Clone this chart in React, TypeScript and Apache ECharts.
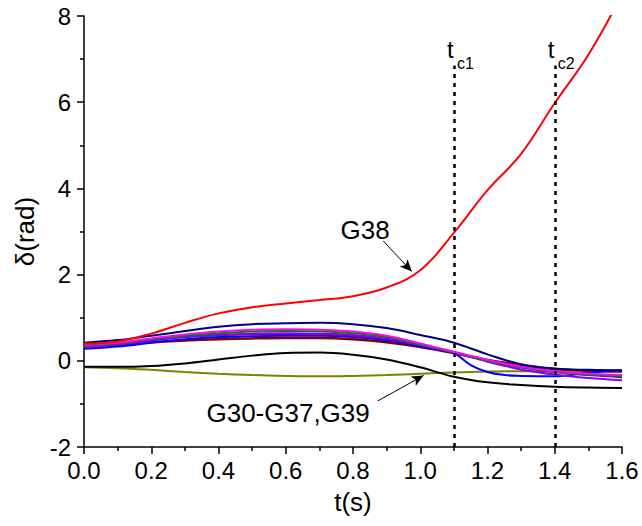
import { useEffect, useRef } from "react";
import * as echarts from "echarts";

// time axis shared by most curves (s)
const times = [0, 0.1, 0.2, 0.3, 0.4, 0.5, 0.6, 0.7, 0.8, 0.9, 1.0, 1.1, 1.2, 1.3, 1.4, 1.5, 1.6];

// rotor angles (rad)
const g38 = [0.4, 0.45, 0.63, 0.88, 1.1, 1.24, 1.33, 1.41, 1.5, 1.7, 2.1, 2.97, 3.96, 4.8, 5.98, 7.1, 8.5];
const g30 = [0.42, 0.48, 0.58, 0.69, 0.79, 0.85, 0.87, 0.88, 0.85, 0.76, 0.6, 0.42, 0.15, -0.08, -0.18, -0.21, -0.22];
const g31 = [0.37, 0.42, 0.52, 0.61, 0.68, 0.72, 0.73, 0.72, 0.68, 0.58, 0.4, 0.21, 0.02, -0.14, -0.24, -0.3, -0.33];
const g32 = [0.35, 0.4, 0.5, 0.58, 0.64, 0.68, 0.69, 0.68, 0.64, 0.55, 0.38, 0.2, 0.0, -0.15, -0.26, -0.32, -0.36];
const g33 = [0.33, 0.38, 0.47, 0.55, 0.6, 0.63, 0.64, 0.63, 0.6, 0.52, 0.37, 0.19, -0.02, -0.2, -0.32, -0.4, -0.45];
const g34 = [0.35, 0.4, 0.48, 0.55, 0.59, 0.61, 0.62, 0.61, 0.58, 0.5, 0.36, 0.19, 0.0, -0.15, -0.26, -0.33, -0.38];
const g36 = [0.33, 0.37, 0.43, 0.47, 0.5, 0.52, 0.53, 0.53, 0.5, 0.43, 0.32, 0.18, 0.02, -0.1, -0.19, -0.23, -0.25];
const g37 = [-0.14, -0.14, -0.12, -0.06, 0.03, 0.12, 0.18, 0.19, 0.14, 0.03, -0.15, -0.37, -0.5, -0.56, -0.6, -0.62, -0.63];
const g39 = [-0.15, -0.17, -0.21, -0.26, -0.3, -0.33, -0.35, -0.36, -0.35, -0.33, -0.3, -0.27, -0.25, -0.24, -0.25, -0.3, -0.38];

// G35 swings back faster, so it is sampled more finely after 1.0 s
const times35 = [0, 0.1, 0.2, 0.3, 0.4, 0.5, 0.6, 0.7, 0.8, 0.9, 1.0, 1.05, 1.1, 1.15, 1.2, 1.25, 1.3, 1.4, 1.5, 1.6];
const g35 = [0.28, 0.33, 0.42, 0.5, 0.55, 0.57, 0.58, 0.58, 0.55, 0.47, 0.33, 0.26, 0.18, -0.1, -0.26, -0.33, -0.35, -0.36, -0.28, -0.22];

// fault clearing instants
const clearTimes = [1.1, 1.4];
const clearLabels = ["c1", "c2"];

const FONT = "'Liberation Sans', Arial, sans-serif";

const zip = (xs: number[], ys: number[]) => xs.map((x, i) => [x, ys[i]]);

export default function App() {
  const ref = useRef<HTMLDivElement>(null);

  useEffect(() => {
    const chart = echarts.init(ref.current!, null, { renderer: "svg" });

    const curve = (name: string, color: string, xs: number[], ys: number[], extra: any = {}) => ({
      name,
      type: "line",
      data: zip(xs, ys),
      smooth: 0.4,
      showSymbol: false,
      symbol: "none",
      lineStyle: { color, width: 2 },
      clip: true,
      ...extra,
    });

    const axisLine = { onZero: false, lineStyle: { color: "#000", width: 1.5 } };
    const tickStyle = { color: "#000", width: 1.5 };

    chart.setOption({
      animation: false,
      backgroundColor: "#fff",
      grid: { left: 84, right: 20, top: 16, bottom: 79, containLabel: false },
      xAxis: {
        type: "value",
        min: 0,
        max: 1.6,
        interval: 0.2,
        axisLine,
        axisTick: { inside: false, length: 7, lineStyle: tickStyle },
        minorTick: { show: true, splitNumber: 2, length: 4, lineStyle: tickStyle },
        splitLine: { show: false },
        axisLabel: {
          color: "#000",
          fontSize: 24,
          fontFamily: FONT,
          margin: 11,
          formatter: (v: number) => v.toFixed(1),
        },
        name: "t(s)",
        nameLocation: "middle",
        nameGap: 42,
        nameTextStyle: { color: "#000", fontSize: 26, fontFamily: FONT },
      },
      yAxis: {
        type: "value",
        min: -2,
        max: 8,
        interval: 2,
        axisLine,
        axisTick: { inside: false, length: 7, lineStyle: tickStyle },
        minorTick: { show: true, splitNumber: 2, length: 4, lineStyle: tickStyle },
        splitLine: { show: false },
        axisLabel: { color: "#000", fontSize: 24, fontFamily: FONT, margin: 13 },
        name: "δ(rad)",
        nameLocation: "middle",
        nameGap: 46,
        nameTextStyle: { color: "#000", fontSize: 26, fontFamily: FONT },
      },
      series: [
        curve("G39", "#808000", times, g39),
        curve("G37", "#000000", times, g37),
        curve("G36", "#800000", times, g36, { lineStyle: { color: "#800000", width: 2.5 } }),
        curve("G35", "#0000ff", times35, g35),
        curve("G34", "#800080", times, g34),
        curve("G33", "#8000ff", times, g33),
        curve("G32", "#008000", times, g32),
        curve("G31", "#ff00ff", times, g31),
        curve("G30", "#000080", times, g30),
        curve("G38", "#ff0000", times, g38, {
          markLine: {
            silent: true,
            animation: false,
            label: { show: false },
            data: [
              ...clearTimes.map((t) => [
                {
                  coord: [t, -2],
                  symbol: "none",
                  lineStyle: { color: "#000", width: 2.5, type: [4, 5], cap: "butt" },
                },
                { coord: [t, 6.85], symbol: "none" },
              ]),
              [
                { coord: [0.89, 2.78], symbol: "none", lineStyle: { color: "#000", width: 1, type: "solid" } },
                { coord: [0.975, 2.07], symbol: "arrow", symbolSize: [8, 12] },
              ],
              [
                { coord: [0.874, -0.93], symbol: "none", lineStyle: { color: "#000", width: 1, type: "solid" } },
                { coord: [1.01, -0.34], symbol: "arrow", symbolSize: [8, 12] },
              ],
            ],
          },
        }),
      ],
    });

    const px = (x: number, y: number) => chart.convertToPixel({ gridIndex: 0 }, [x, y]) as number[];

    const g38Pos = px(0.836, 3.03);
    const groupPos = px(0.607, -1.21);
    const textStyle = (text: string, size: number, align = "center") => ({
      text,
      fill: "#000",
      fontSize: size,
      fontFamily: FONT,
      align,
      verticalAlign: "middle",
    });

    const graphics: any[] = [
      { type: "text", x: g38Pos[0], y: g38Pos[1], style: textStyle("G38", 26) },
      { type: "text", x: groupPos[0], y: groupPos[1], style: textStyle("G30-G37,G39", 26) },
    ];
    clearTimes.forEach((t, i) => {
      const top = px(t, 6.85);
      graphics.push(
        { type: "text", x: top[0] - 7, y: top[1] - 16, style: textStyle("t", 24, "left") },
        { type: "text", x: top[0] + 3, y: top[1] - 2, style: textStyle(clearLabels[i], 16, "left") }
      );
    });
    chart.setOption({ graphic: graphics });

    return () => chart.dispose();
  }, []);

  return (
    <div
      ref={ref}
      style={{ position: "fixed", left: 0, top: 0, width: 642, height: 526 }}
    />
  );
}
